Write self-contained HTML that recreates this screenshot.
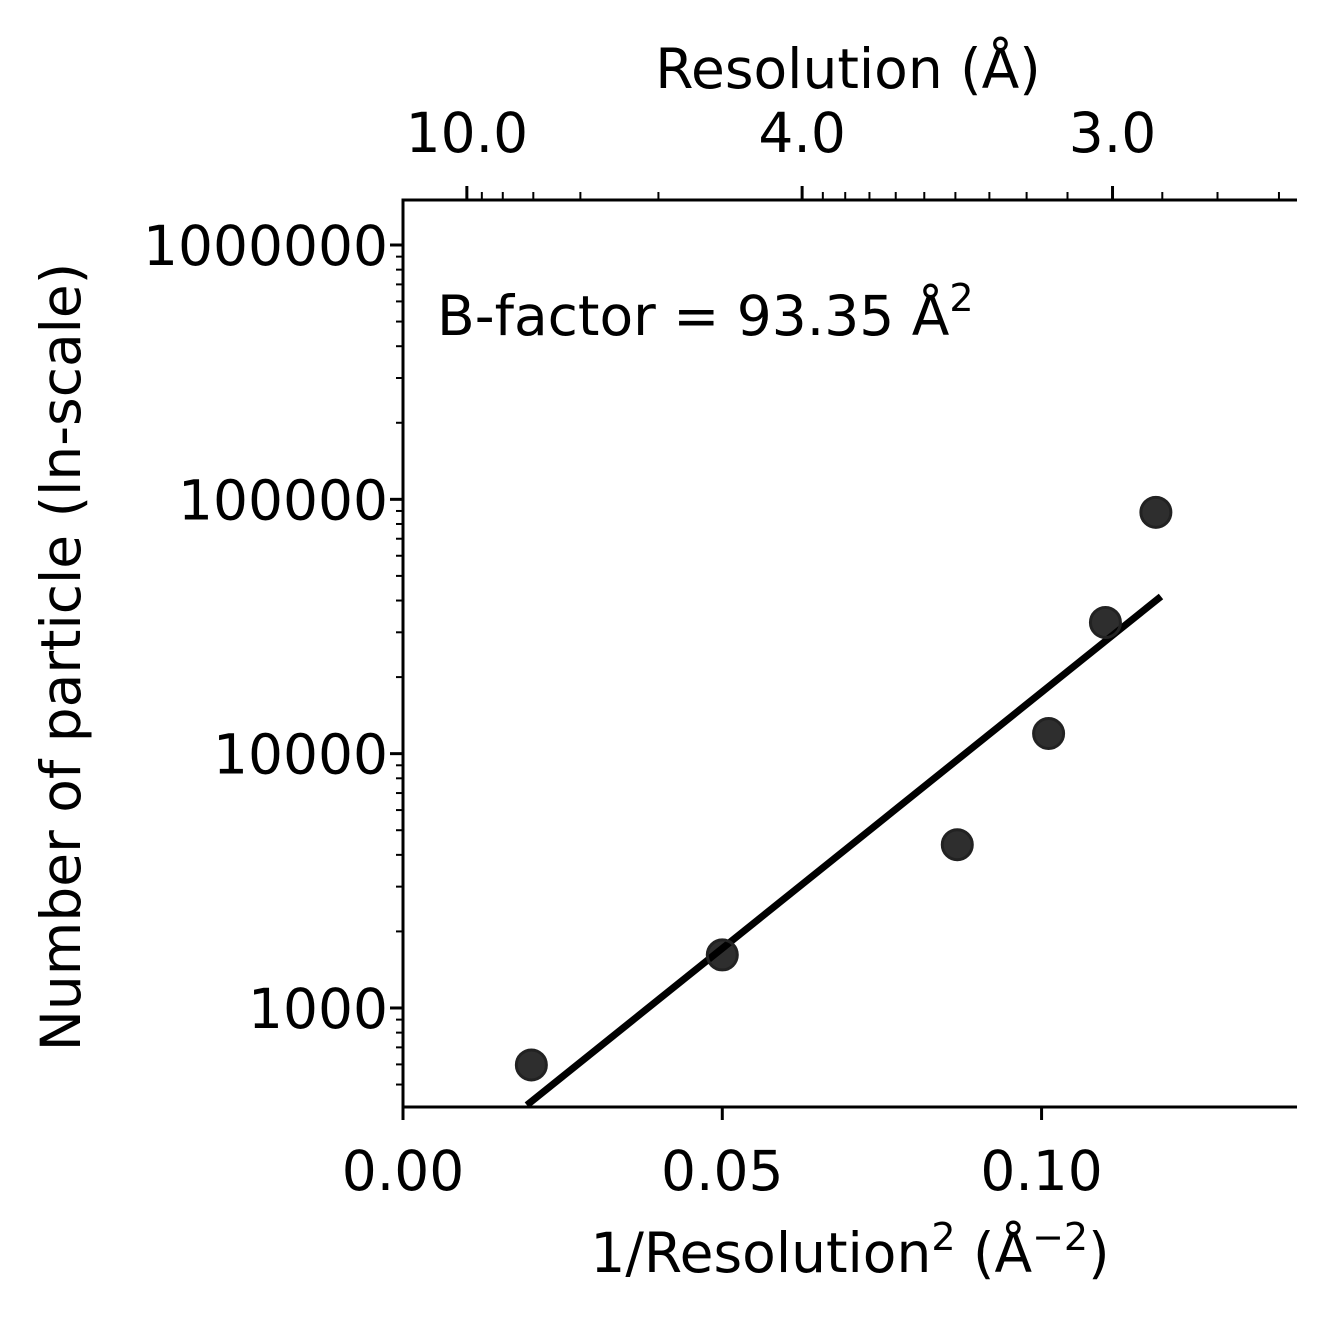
<!DOCTYPE html>
<html><head><meta charset="utf-8"><style>
html,body{margin:0;padding:0;background:#fff}
svg{display:block}
text{font-family:"DejaVu Sans","Liberation Sans",sans-serif;fill:#000}
</style></head><body>
<svg id="chart" width="1334" height="1325" viewBox="0 0 1334 1325" xmlns="http://www.w3.org/2000/svg">
<g id="axes"></g>
<g id="marks"></g>
<text x="437" y="335" font-size="55">B-factor = 93.35 Å<tspan dy="-24" font-size="38">2</tspan></text>
<text x="850" y="1272" font-size="55" text-anchor="middle">1/Resolution<tspan dy="-22" font-size="38">2</tspan><tspan dy="22"> (Å</tspan><tspan dy="-22" font-size="38">−2</tspan><tspan dy="22">)</tspan></text>
<text x="848" y="88" font-size="55" text-anchor="middle">Resolution (Å)</text>
<text transform="translate(80,657) rotate(-90)" font-size="55" text-anchor="middle">Number of particle (ln-scale)</text>
</svg>
<script>
const pointX = [0.0201, 0.0500, 0.0868, 0.1011, 0.1100, 0.1179];
const pointY = [597, 1617, 4385, 12000, 32800, 88900];
const fitX = [0.0194, 0.1187];
const fitY = [415, 41500];
const xTicks = [0, 0.05, 0.10];
const xTickLabels = ["0.00", "0.05", "0.10"];
const yTicks = [1000, 10000, 100000, 1000000];
const yTickLabels = ["1000", "10000", "100000", "1000000"];
const resMajor = [10, 4, 3];
const resMajorLabels = ["10.0", "4.0", "3.0"];
const resMinor = [9,8,7,6,5,3.9,3.8,3.7,3.6,3.5,3.4,3.3,3.2,3.1,2.9,2.8,2.7];

const L=403,R=1297,T=200,B=1107;
const xMin=0,xMax=0.14,yMin=Math.log10(408),yMax=Math.log10(1503000);
const sx=v=>L+(v-xMin)/(xMax-xMin)*(R-L);
const sy=v=>B-(Math.log10(v)-yMin)/(yMax-yMin)*(B-T);
const NS="http://www.w3.org/2000/svg";
const axes=document.getElementById('axes'), marks=document.getElementById('marks');
function mk(tag,attrs,parent){const e=document.createElementNS(NS,tag);for(const k in attrs)e.setAttribute(k,attrs[k]);parent.appendChild(e);return e;}
function line(x1,y1,x2,y2,name,w){
  const e=mk('line',{x1,y1,x2,y2,stroke:'#000','stroke-width':w||3},axes);
  
  
  return e;
}
line(L,T,L,B+1.5,'left-spine');
line(L-1.5,B,R,B,'bottom-spine');
line(L-1.5,T,R,T,'top-spine');
xTicks.forEach((v,i)=>{
  const x=sx(v);line(x,B,x,B+13,'x-tick');
  const t=mk('text',{x,y:B+83,'font-size':55,'text-anchor':'middle'},axes);t.textContent=xTickLabels[i];
  
  
});
yTicks.forEach((v,i)=>{
  const y=sy(v);line(L-13,y,L,y,'y-tick');
  const t=mk('text',{x:L-15,y:y+20,'font-size':55,'text-anchor':'end'},axes);t.textContent=yTickLabels[i];
  
  
});
for(let d=2;d<=6;d++){for(let m=2;m<=9;m++){const v=m*Math.pow(10,d);const y=sy(v);if(y<T||y>B)continue;line(L-7,y,L,y,'y-minor-tick',2);}}
resMajor.forEach((r,i)=>{
  const x=sx(1/(r*r));line(x,T-14,x,T,'top-tick');
  const t=mk('text',{x,y:T-48,'font-size':55,'text-anchor':'middle'},axes);t.textContent=resMajorLabels[i];
  
  
});
resMinor.forEach(r=>{const x=sx(1/(r*r));line(x,T-8,x,T,'top-minor-tick',2);});
const fl=mk('line',{x1:sx(fitX[0]),y1:sy(fitY[0]),x2:sx(fitX[1]),y2:sy(fitY[1]),stroke:'#000','stroke-width':7},marks);


pointX.forEach((v,i)=>{
  const c=mk('circle',{cx:sx(v),cy:sy(pointY[i]),r:15,fill:'#000','fill-opacity':0.82,stroke:'#222','stroke-width':3},marks);
  
  
});
</script>
</body></html>
